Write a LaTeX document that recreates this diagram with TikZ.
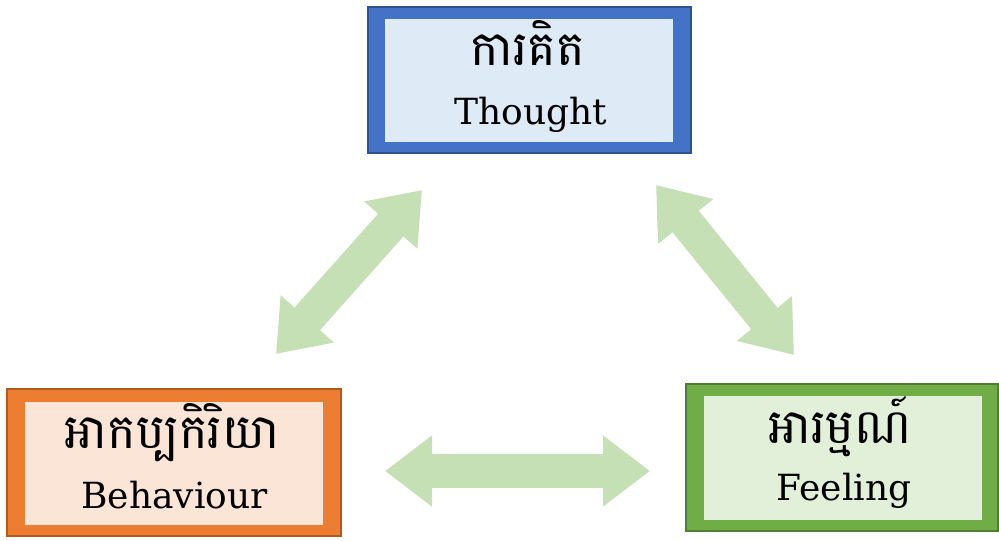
\documentclass[tikz,border=0pt]{standalone}
\usepackage{fontspec}
\newfontfamily\khmerfont[Script=Khmer]{Battambang}
\newfontfamily\enfont{DejaVu Serif}
\usetikzlibrary{arrows.meta}
\definecolor{bluebd}{HTML}{4472C4}
\definecolor{bluedk}{HTML}{2F528F}
\definecolor{bluein}{HTML}{DEEBF7}
\definecolor{orangebd}{HTML}{ED7D31}
\definecolor{orangedk}{HTML}{AE5A21}
\definecolor{orangein}{HTML}{FBE5D6}
\definecolor{greenbd}{HTML}{70AD47}
\definecolor{greendk}{HTML}{507E32}
\definecolor{greenin}{HTML}{E2F0D9}
\definecolor{arrowgreen}{HTML}{C5E0B4}
\tikzset{
  outerbox/.style={rectangle, inner sep=0pt, line width=1.5pt},
  innerbox/.style={rectangle, inner sep=0pt},
  khtext/.style={inner sep=0pt, anchor=base, font=\khmerfont\fontsize{48}{52}\selectfont},
  entext/.style={inner sep=0pt, anchor=base, font=\enfont\fontsize{36}{40}\selectfont},
  bigarrow/.style={draw=arrowgreen, line width=34pt, line cap=butt,
    {Triangle[length=47pt,width=68pt]}-{Triangle[length=47pt,width=68pt]}}
}
\begin{document}
\begin{tikzpicture}[x=1pt,y=-1pt]
\useasboundingbox (0,0) rectangle (999,541);
% Thought
\node[outerbox, fill=bluebd, draw=bluedk, minimum width=323pt, minimum height=146pt] (thoughtO) at (529.5,80) {};
\node[innerbox, fill=bluein, minimum width=288pt, minimum height=123pt] (thoughtI) at (529,80.5) {};
\node[khtext] (thoughtK) at (528,65) {ការគិត};
\node[entext] (thoughtE) at (531,124) {Thought};
% Behaviour
\node[outerbox, fill=orangebd, draw=orangedk, minimum width=334pt, minimum height=147pt] (behO) at (174,462.5) {};
\node[innerbox, fill=orangein, minimum width=298pt, minimum height=123pt] (behI) at (174,463.5) {};
\node[khtext] (behK) at (172,448) {អាកប្បកិរិយា};
\node[entext] (behE) at (174.5,508) {Behaviour};
% Feeling
\node[outerbox, fill=greenbd, draw=greendk, minimum width=312pt, minimum height=147pt] (feelO) at (842,457.5) {};
\node[innerbox, fill=greenin, minimum width=278pt, minimum height=124pt] (feelI) at (843,458) {};
\node[khtext] (feelK) at (840,443) {អារម្មណ៍};
\node[entext] (feelE) at (844,500) {Feeling};
% arrows
\coordinate (a1) at (276,354);
\coordinate (a2) at (422,190);
\coordinate (b1) at (656,185);
\coordinate (b2) at (794,355);
\coordinate (c1) at (385,471);
\coordinate (c2) at (650,471);
\draw[bigarrow] (a1) -- (a2);
\draw[bigarrow] (b1) -- (b2);
\draw[bigarrow] (c1) -- (c2);
\end{tikzpicture}
\end{document}
